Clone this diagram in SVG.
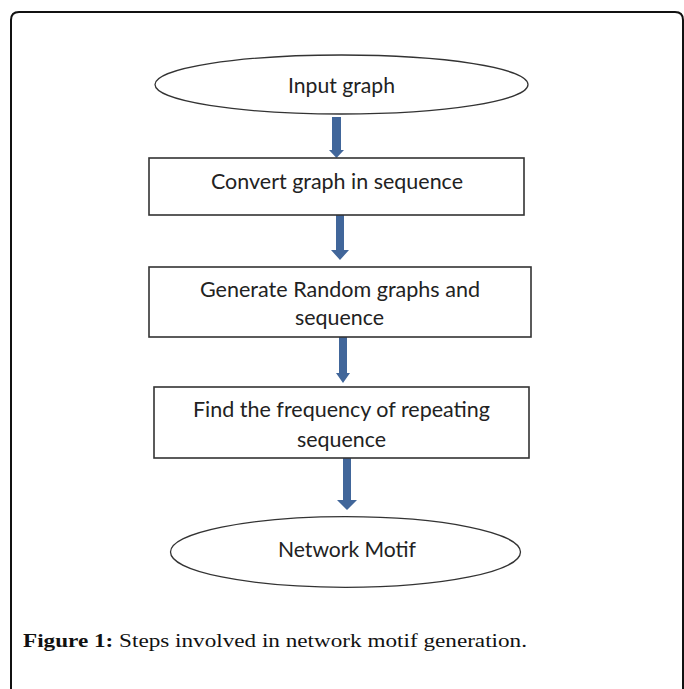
<svg xmlns="http://www.w3.org/2000/svg" width="684" height="689" viewBox="0 0 684 689">
  <defs>
    <style>
      .frame { fill: none; stroke: #111; stroke-width: 2; }
      .term { fill: #fff; stroke: #333; stroke-width: 1.3; }
      .step { fill: #fff; stroke: #333; stroke-width: 1.6; }
      .label { font-family: Lato, "Open Sans", "Liberation Sans", sans-serif; font-size: 21px; fill: #222; text-anchor: middle; }
      .arrow { fill: #41669a; }
      .caption { font-family: "Liberation Serif", "DejaVu Serif", serif; font-size: 19px; fill: #111; }
      .caption .lead { font-weight: bold; }
    </style>
  </defs>

  <rect width="684" height="689" fill="#fff"/>

  <!-- outer panel border, open at the bottom -->
  <path class="frame" d="M11,700 V20 Q11,12 19,12 H675 Q683,12 683,20 V700"/>

  <!-- flow arrows -->
  <g id="connectors">
    <path class="arrow" d="M332,117 H341 V150 H344 L336.5,158 L329,150 H332 Z"/>
    <path class="arrow" d="M336,215 H344 V250 H349 L340,260 L331,250 H336 Z"/>
    <path class="arrow" d="M339,337 H347 V373 H350 L343,383 L336,373 H339 Z"/>
    <path class="arrow" d="M343,458 H351 V500 H357 L347,510 L337,500 H343 Z"/>
  </g>

  <g id="input-graph">
    <ellipse class="term" cx="341.5" cy="84.5" rx="186.5" ry="29.5"/>
    <text class="label" x="341.5" y="93" textLength="107" lengthAdjust="spacingAndGlyphs">Input graph</text>
  </g>

  <g id="convert-sequence">
    <rect class="step" x="149" y="158" width="375" height="57"/>
    <text class="label" x="337" y="189" textLength="252" lengthAdjust="spacingAndGlyphs">Convert graph in sequence</text>
  </g>

  <g id="random-graphs">
    <rect class="step" x="149" y="267" width="382" height="70"/>
    <text class="label" x="340" y="297" textLength="280" lengthAdjust="spacingAndGlyphs">Generate Random graphs and</text>
    <text class="label" x="339.5" y="325" textLength="89" lengthAdjust="spacingAndGlyphs">sequence</text>
  </g>

  <g id="repeat-frequency">
    <rect class="step" x="154" y="387" width="375" height="71"/>
    <text class="label" x="341.5" y="417" textLength="297" lengthAdjust="spacingAndGlyphs">Find the frequency of repeating</text>
    <text class="label" x="341.5" y="447" textLength="89" lengthAdjust="spacingAndGlyphs">sequence</text>
  </g>

  <g id="network-motif">
    <ellipse class="term" cx="345.5" cy="552" rx="175" ry="35.3"/>
    <text class="label" x="347" y="557" textLength="138" lengthAdjust="spacingAndGlyphs">Network Motif</text>
  </g>

  <text class="caption" x="23" y="647" textLength="504" lengthAdjust="spacingAndGlyphs"><tspan class="lead">Figure 1:</tspan> Steps involved in network motif generation.</text>
</svg>
